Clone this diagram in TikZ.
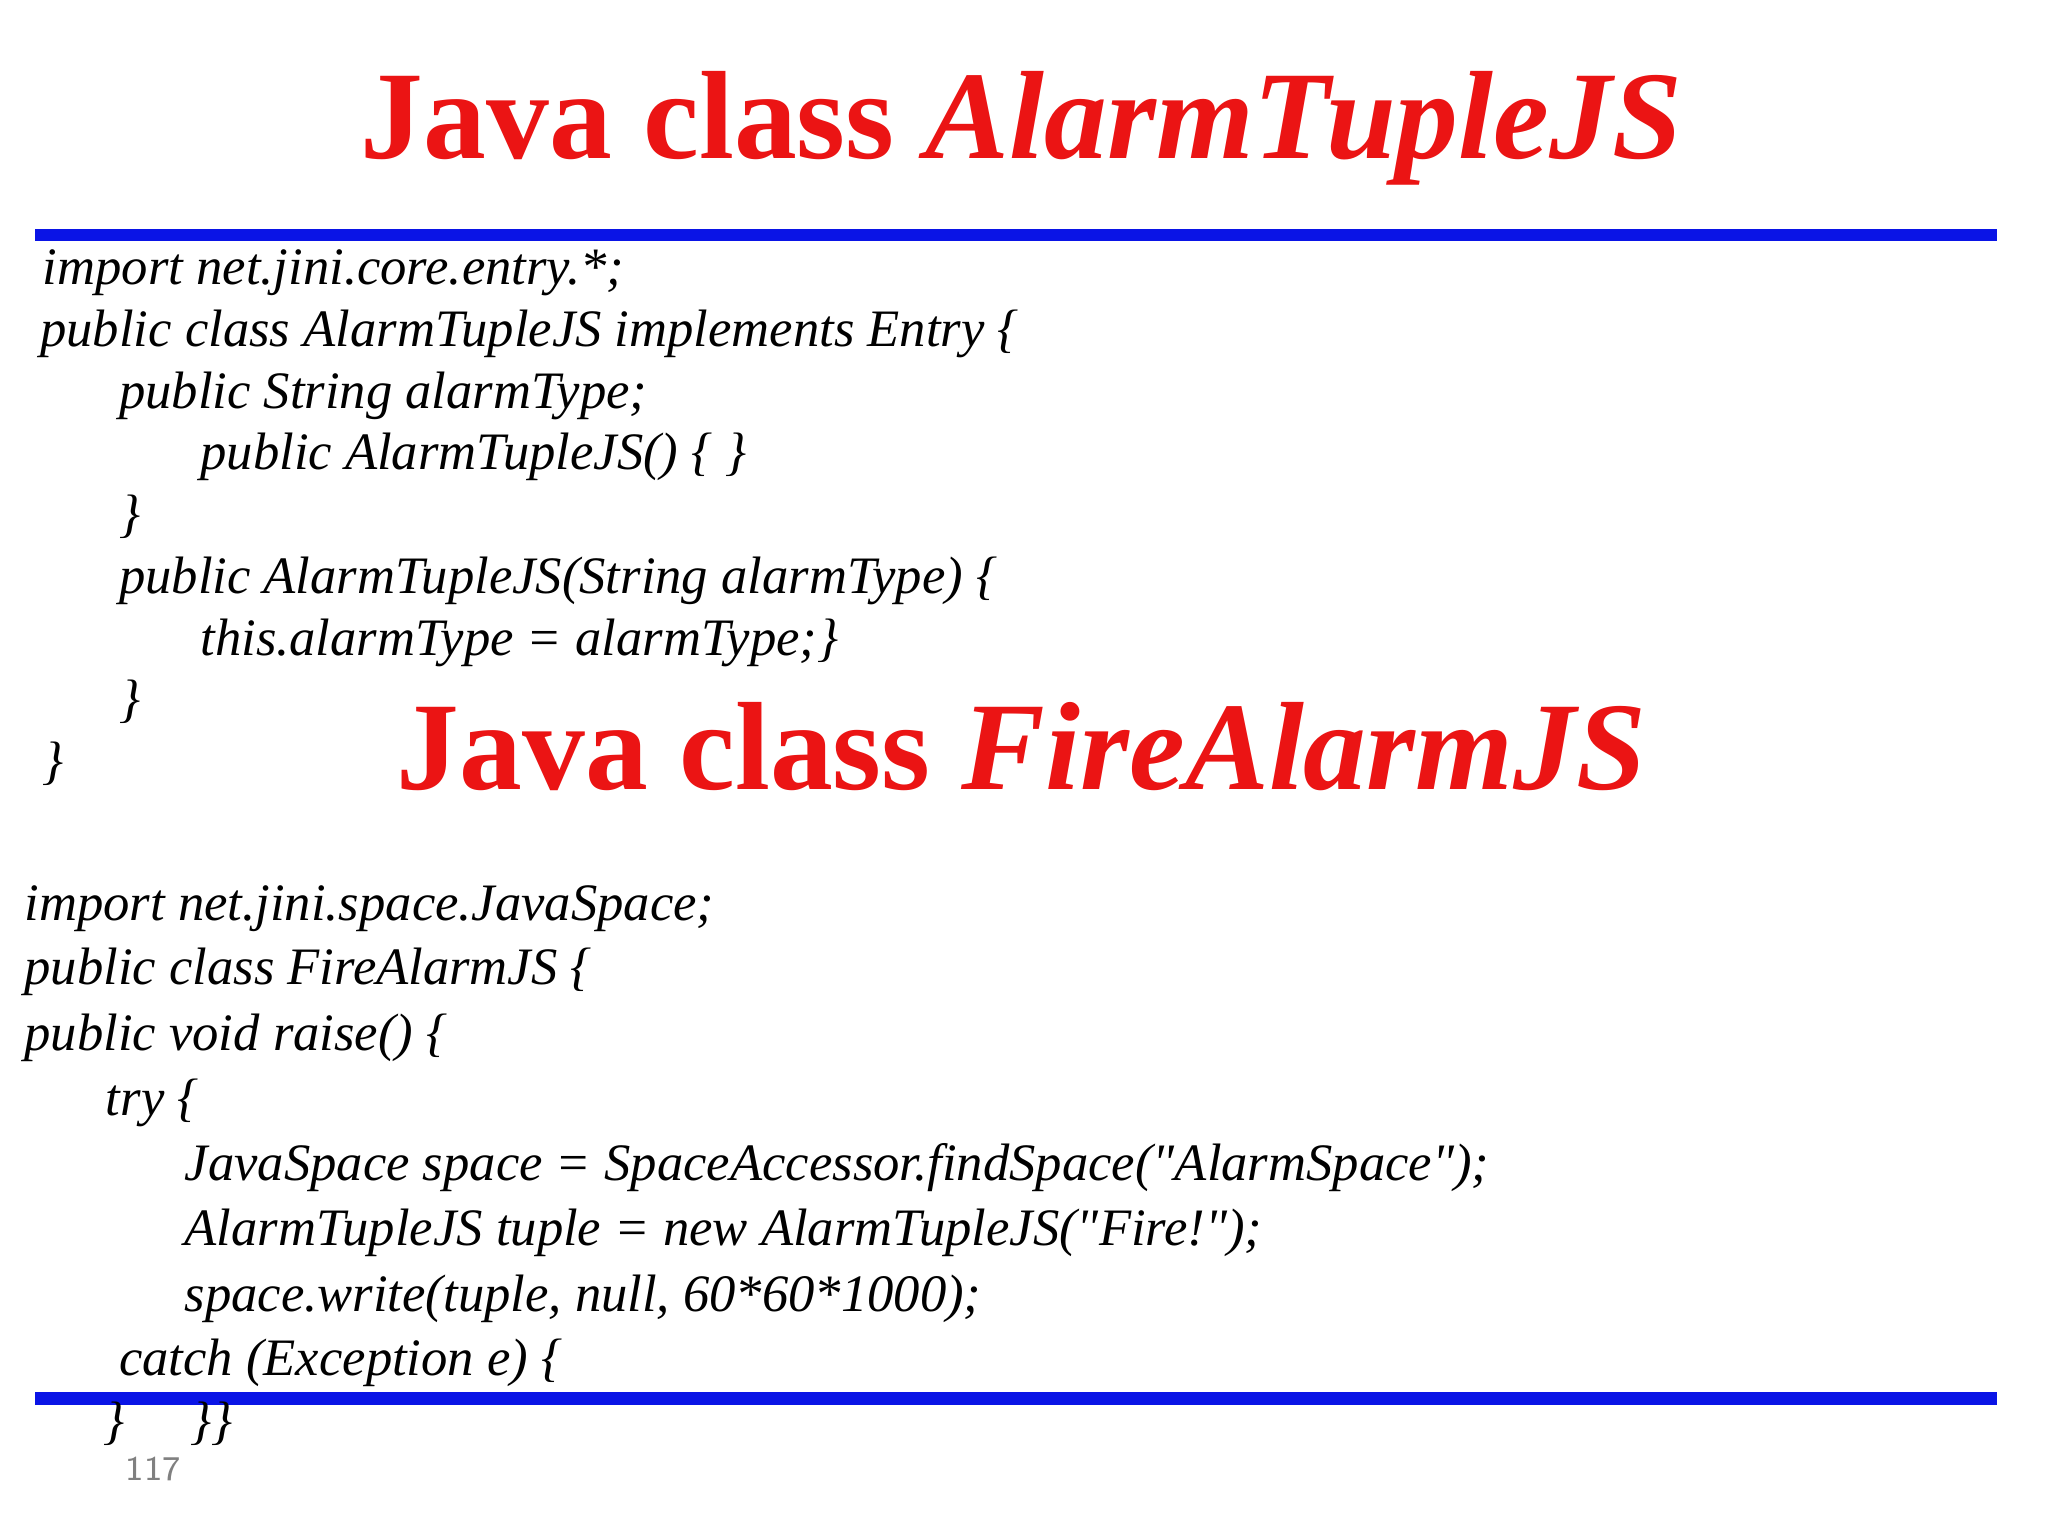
\documentclass[tikz,border=0pt]{standalone}
\usepackage{fontspec}
\setmainfont{Liberation Serif}
\newfontfamily\codefont{Liberation Serif}
\definecolor{tred}{RGB}{235,20,20}
\definecolor{tblue}{RGB}{10,20,230}
\begin{document}
\begin{tikzpicture}[x=0.01cm,y=-0.01cm,
  code/.style={anchor=base west,inner sep=0pt,font=\codefont\fontsize{11.4}{13}\selectfont\itshape},
  ttl/.style={anchor=base,inner sep=0pt,text=tred,font=\fontsize{27.2}{31}\selectfont\bfseries}]
\useasboundingbox (0,0) rectangle (1560,1170);
\fill[white] (0,0) rectangle (1560,1170);
\node[ttl] (t1) at (778,121) {Java class \textit{AlarmTupleJS}};
\draw[tblue,line width=2.8pt] (27,179) -- (1521,179);
\draw[tblue,line width=2.8pt] (27,1065) -- (1521,1065);
\node[code] (a1) at (32,217) {import net.jini.core.entry.*;};
\node[code] (a2) at (30,264) {public class AlarmTupleJS implements Entry \{};
\node[code] (a3) at (90,311) {public String alarmType;};
\node[code] (a4) at (152,358) {public AlarmTupleJS() \{ \}};
\node[code] (a5) at (90,405) {\}};
\node[code] (a6) at (90,452) {public AlarmTupleJS(String alarmType) \{};
\node[code] (a7) at (152,499) {this.alarmType = alarmType;\}};
\node[code] (a8) at (90,546) {\}};
\node[code] (a9) at (32,593) {\}};
\node[ttl] (t2) at (778,601) {Java class \textit{FireAlarmJS}};
\node[code] (b1) at (18,701) {import net.jini.space.JavaSpace;};
\node[code] (b2) at (18,750) {public class FireAlarmJS \{};
\node[code] (b3) at (18,800) {public void raise() \{};
\node[code] (b4) at (80,850) {try \{};
\node[code] (b5) at (140,899) {JavaSpace space = SpaceAccessor.findSpace("AlarmSpace");};
\node[code] (b6) at (140,949) {AlarmTupleJS tuple = new AlarmTupleJS("Fire!");};
\node[code] (b7) at (140,999) {space.write(tuple, null, 60*60*1000);};
\node[code] (b8) at (90,1048) {catch (Exception e) \{};
\node[code] (b9) at (78,1096) {\}\quad\ \}\}};
\node[anchor=base west,inner sep=0pt,text=gray,font=\sffamily\fontsize{7.5}{9}\selectfont] (pn) at (95,1128) {117};
\end{tikzpicture}
\end{document}
